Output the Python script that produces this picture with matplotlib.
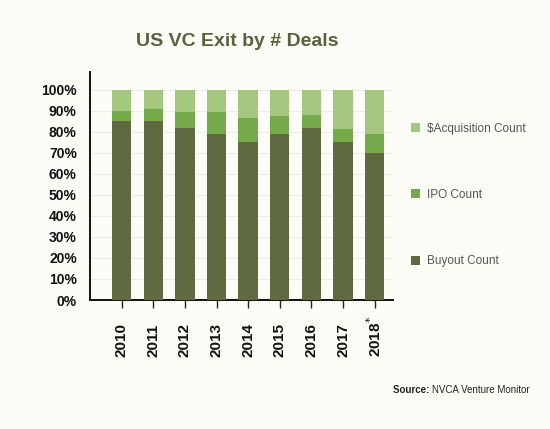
import numpy as np
import matplotlib.pyplot as plt

# ========================= DATA =========================
years = ['2010', '2011', '2012', '2013', '2014', '2015', '2016', '2017', '2018*']
buyout = [85, 85, 82, 79, 75, 79, 82, 75, 70]
ipo = [5, 6, 7.5, 10.5, 11.5, 8.5, 6, 6.5, 9]
acquisition = [10, 9, 10.5, 10.5, 13.5, 12.5, 12, 18.5, 21]

# ========================= STYLE =========================
bg = '#fdfdf8'
c_buy = '#5f6a41'
c_ipo = '#75a94a'
c_acq = '#a6c77f'
plt.rcParams['font.family'] = ['Liberation Sans', 'DejaVu Sans']

fig = plt.figure(figsize=(5.5, 4.29), dpi=100, facecolor=bg)
ax = fig.add_axes([90 / 550, 1 - 300 / 429, 303 / 550, 228 / 429], facecolor=bg)

x = np.arange(len(years))
buyout = np.array(buyout)
ipo = np.array(ipo)
acquisition = np.array(acquisition)

w = 0.61
b1 = ax.bar(x, buyout, w, color=c_buy, label='Buyout Count', zorder=3)
b2 = ax.bar(x, ipo, w, bottom=buyout, color=c_ipo, label='IPO Count', zorder=3)
b3 = ax.bar(x, acquisition, w, bottom=buyout + ipo, color=c_acq,
            label='$Acquisition Count', zorder=3)

ax.set_xlim(-1.0, 8.58)
ax.set_ylim(0, 108.5)

ax.set_yticks(np.arange(0, 101, 10))
ax.set_yticklabels([f'{v}%' for v in range(0, 101, 10)], fontsize=10,
                   fontweight='bold', color='#111111')
ax.tick_params(axis='y', length=0, pad=9.5)
ax.grid(axis='y', color='#ececea', linewidth=0.8, zorder=0)

ax.set_xticks(x)
ax.tick_params(axis='x', length=6, width=1.0, color='#222222', labelbottom=False)
for i, lab in enumerate(years):
    ax.text(i, -0.25, lab.replace('*', '$^{*}$'), rotation=90, ha='center',
            va='bottom', fontsize=11, fontweight='bold', color='#111111',
            transform=ax.get_xaxis_transform())

for s in ['top', 'right']:
    ax.spines[s].set_visible(False)
ax.spines['left'].set_linewidth(1.4)
ax.spines['bottom'].set_linewidth(1.4)
ax.spines['left'].set_color('#111111')
ax.spines['bottom'].set_color('#111111')

fig.text(237 / 550, 1 - 41 / 429, 'US VC Exit by # Deals', ha='center',
         va='center', fontsize=14, fontweight='bold', color='#59613f')

leg = fig.legend(handles=[b3, b2, b1], loc='upper left',
                 bbox_to_anchor=(400 / 550, 1 - 112 / 429), frameon=False,
                 fontsize=8.5, labelcolor='#555555', handlelength=0.8,
                 handleheight=0.8, handletextpad=0.6, labelspacing=4.6)

t = fig.text(393 / 550, 1 - 390 / 429, 'Source: ', fontsize=7,
             fontweight='bold', color='#222222', va='center')
fig.add_artist(plt.matplotlib.text.Annotation(
    'NVCA Venture Monitor', xy=(1, 0.5), xycoords=t, va='center',
    fontsize=7, color='#222222'))

plt.savefig('out.png', dpi=100, facecolor=bg)
